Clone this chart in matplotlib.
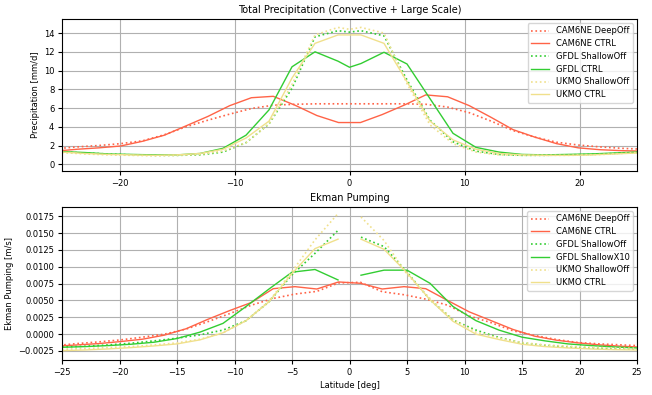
import numpy as np
import matplotlib
matplotlib.use("Agg")
import matplotlib.pyplot as plt
from matplotlib.ticker import MultipleLocator

# ---------------- data ----------------
# CAM6NE latitude grid (1.9 deg)
lat_cam = [-25.58, -23.68, -21.79, -19.89, -18.0, -16.1, -14.21, -12.32, -10.42, -8.53,
           -6.63, -4.74, -2.84, -0.95, 0.95, 2.84, 4.74, 6.63, 8.53, 10.42,
           12.32, 14.21, 16.1, 18.0, 19.89, 21.79, 23.68, 25.58]
# GFDL / UKMO latitude grid
lat_mod = [-25, -23, -21, -19, -17, -15, -13, -11, -9, -7, -5, -3, -1, 0,
           1, 3, 5, 7, 9, 11, 13, 15, 17, 19, 21, 23, 25]

# Total precipitation [mm/d]
pr_cam_deepoff = [1.65, 1.85, 2.0, 2.2, 2.5, 3.15, 4.0, 4.7, 5.35, 5.95,
                  6.3, 6.4, 6.45, 6.45, 6.45, 6.45, 6.45, 6.4, 6.1, 5.5,
                  4.6, 3.6, 2.9, 2.35, 2.05, 1.85, 1.7, 1.6]
pr_cam_ctrl = [1.4, 1.6, 1.75, 1.95, 2.45, 3.1, 4.1, 5.1, 6.25, 7.1,
               7.25, 6.3, 5.2, 4.45, 4.45, 5.3, 6.3, 7.4, 7.2, 6.25,
               5.0, 3.7, 2.9, 2.2, 1.75, 1.55, 1.45, 1.4]
pr_gfdl_shallowoff = [1.3, 1.2, 1.1, 1.0, 0.95, 0.95, 1.0, 1.3, 2.3, 4.3, 8.1, 13.6, 14.25, 14.1,
                      14.25, 13.7, 9.0, 4.7, 2.4, 1.4, 1.05, 0.95, 0.95, 1.0, 1.05, 1.15, 1.25]
pr_gfdl_ctrl = [1.35, 1.25, 1.1, 1.05, 1.0, 1.0, 1.15, 1.7, 3.1, 5.8, 10.4, 12.0, 11.0, 10.35,
                10.75, 11.95, 10.7, 7.0, 3.3, 1.8, 1.3, 1.05, 1.0, 1.05, 1.1, 1.2, 1.3]
pr_ukmo_shallowoff = [1.25, 1.1, 1.0, 0.95, 0.9, 0.95, 1.05, 1.4, 2.3, 4.3, 8.5, 13.8, 14.6, 14.4,
                      14.6, 14.0, 8.6, 4.2, 2.2, 1.3, 1.0, 0.95, 0.95, 0.95, 1.0, 1.1, 1.25]
pr_ukmo_ctrl = [1.3, 1.15, 1.05, 1.0, 0.95, 1.0, 1.15, 1.6, 2.8, 4.6, 9.2, 12.9, 13.8, 13.8,
                13.8, 12.9, 8.8, 4.6, 2.6, 1.6, 1.15, 1.0, 0.95, 0.95, 1.0, 1.1, 1.2]

# Ekman pumping [1e-3 m/s]
ek_cam_deepoff = [-1.7, -1.4, -1.15, -0.85, -0.45, 0.0, 0.75, 1.85, 3.05, 4.3,
                  5.3, 5.95, 6.35, 7.6, 7.7, 6.3, 5.85, 5.2, 4.3, 2.7,
                  1.7, 0.5, -0.2, -0.8, -1.25, -1.45, -1.6, -1.75]
ek_cam_ctrl = [-1.8, -1.6, -1.4, -1.1, -0.75, -0.15, 0.8, 2.2, 3.5, 4.7,
               6.75, 7.05, 6.7, 7.75, 7.55, 6.7, 7.05, 6.75, 5.0, 3.3,
               2.0, 0.7, -0.3, -0.9, -1.3, -1.6, -1.8, -1.95]
ek_gfdl_shallowoff = [-1.9, -1.8, -1.6, -1.35, -1.0, -0.6, -0.1, 0.6, 2.0, 4.8, 8.8, 12.0, 15.4, np.nan,
                      14.4, 13.0, 9.2, 5.1, 2.1, 0.6, -0.5, -1.3, -1.65, -1.9, -2.05, -2.15, -2.25]
ek_gfdl_shallowx10 = [-1.95, -1.85, -1.7, -1.5, -1.2, -0.65, 0.3, 1.6, 4.1, 6.7, 9.2, 9.6, 8.05, np.nan,
                      8.75, 9.5, 9.5, 7.55, 4.1, 2.0, 0.6, -0.45, -1.0, -1.45, -1.7, -1.9, -2.05]
ek_ukmo_shallowoff = [-2.25, -2.15, -2.0, -1.85, -1.6, -1.3, -0.75, 0.2, 2.0, 4.9, 9.3, 14.0, 17.9, np.nan,
                      17.4, 13.9, 8.9, 5.3, 2.2, 0.3, -0.6, -1.25, -1.6, -1.8, -1.95, -2.05, -2.1]
ek_ukmo_ctrl = [-2.45, -2.35, -2.2, -2.0, -1.75, -1.45, -0.85, 0.2, 2.0, 4.8, 9.0, 12.7, 14.1, np.nan,
                14.1, 12.6, 9.1, 5.1, 1.9, 0.0, -0.8, -1.5, -1.85, -2.05, -2.2, -2.3, -2.35]

C_CAM = "#ff6347"
C_GFDL = "#32cd32"
C_UKMO = "#f0e08c"

plt.rcParams["font.family"] = ["DejaVu Sans"]
plt.rcParams["font.size"] = 6
plt.rcParams["xtick.major.size"] = 3
plt.rcParams["ytick.major.size"] = 3
plt.rcParams["xtick.major.pad"] = 2.5
plt.rcParams["ytick.major.pad"] = 2.5

fig = plt.figure(figsize=(6.52, 3.95), dpi=100)
ax1 = fig.add_axes([0.0951, 0.5671, 0.8819, 0.3848])
ax2 = fig.add_axes([0.0951, 0.0886, 0.8819, 0.3874])

lw = 1.0
leg_kw = dict(loc="upper right", fontsize=6, framealpha=0.8, edgecolor="#cccccc",
              labelspacing=0.45, borderpad=0.4, handlelength=2.2)

ax1.plot(lat_cam, pr_cam_deepoff, ":", color=C_CAM, lw=1.2, label="CAM6NE DeepOff")
ax1.plot(lat_cam, pr_cam_ctrl, "-", color=C_CAM, lw=lw, label="CAM6NE CTRL")
ax1.plot(lat_mod, pr_gfdl_shallowoff, ":", color=C_GFDL, lw=1.2, label="GFDL ShallowOff")
ax1.plot(lat_mod, pr_gfdl_ctrl, "-", color=C_GFDL, lw=lw, label="GFDL CTRL")
ax1.plot(lat_mod, pr_ukmo_shallowoff, ":", color=C_UKMO, lw=1.2, label="UKMO ShallowOff")
ax1.plot(lat_mod, pr_ukmo_ctrl, "-", color=C_UKMO, lw=lw, label="UKMO CTRL")
ax1.set_xlim(-25, 25)
ax1.set_ylim(-0.72, 15.5)
ax1.xaxis.set_major_locator(MultipleLocator(10))
ax1.yaxis.set_major_locator(MultipleLocator(2))
ax1.grid(True, color="#b0b0b0", lw=0.8)
ax1.set_ylabel("Precipitation [mm/d]", labelpad=3)
ax1.set_title("Total Precipitation (Convective + Large Scale)", fontsize=7, pad=4)
ax1.legend(**leg_kw)

s = 1e-3
ax2.plot(lat_cam, np.array(ek_cam_deepoff) * s, ":", color=C_CAM, lw=1.2, label="CAM6NE DeepOff")
ax2.plot(lat_cam, np.array(ek_cam_ctrl) * s, "-", color=C_CAM, lw=lw, label="CAM6NE CTRL")
ax2.plot(lat_mod, np.array(ek_gfdl_shallowoff) * s, ":", color=C_GFDL, lw=1.2, label="GFDL ShallowOff")
ax2.plot(lat_mod, np.array(ek_gfdl_shallowx10) * s, "-", color=C_GFDL, lw=lw, label="GFDL ShallowX10")
ax2.plot(lat_mod, np.array(ek_ukmo_shallowoff) * s, ":", color=C_UKMO, lw=1.2, label="UKMO ShallowOff")
ax2.plot(lat_mod, np.array(ek_ukmo_ctrl) * s, "-", color=C_UKMO, lw=lw, label="UKMO CTRL")
ax2.set_xlim(-25, 25)
ax2.set_ylim(-0.00384, 0.01888)
ax2.xaxis.set_major_locator(MultipleLocator(5))
ax2.yaxis.set_major_locator(MultipleLocator(0.0025))
ax2.grid(True, color="#b0b0b0", lw=0.8)
ax2.set_ylabel("Ekman Pumping [m/s]", labelpad=3)
ax2.set_xlabel("Latitude [deg]", labelpad=3)
ax2.set_title("Ekman Pumping", fontsize=7, pad=4)
ax2.legend(**leg_kw)

fig.savefig("out.png", dpi=100)
